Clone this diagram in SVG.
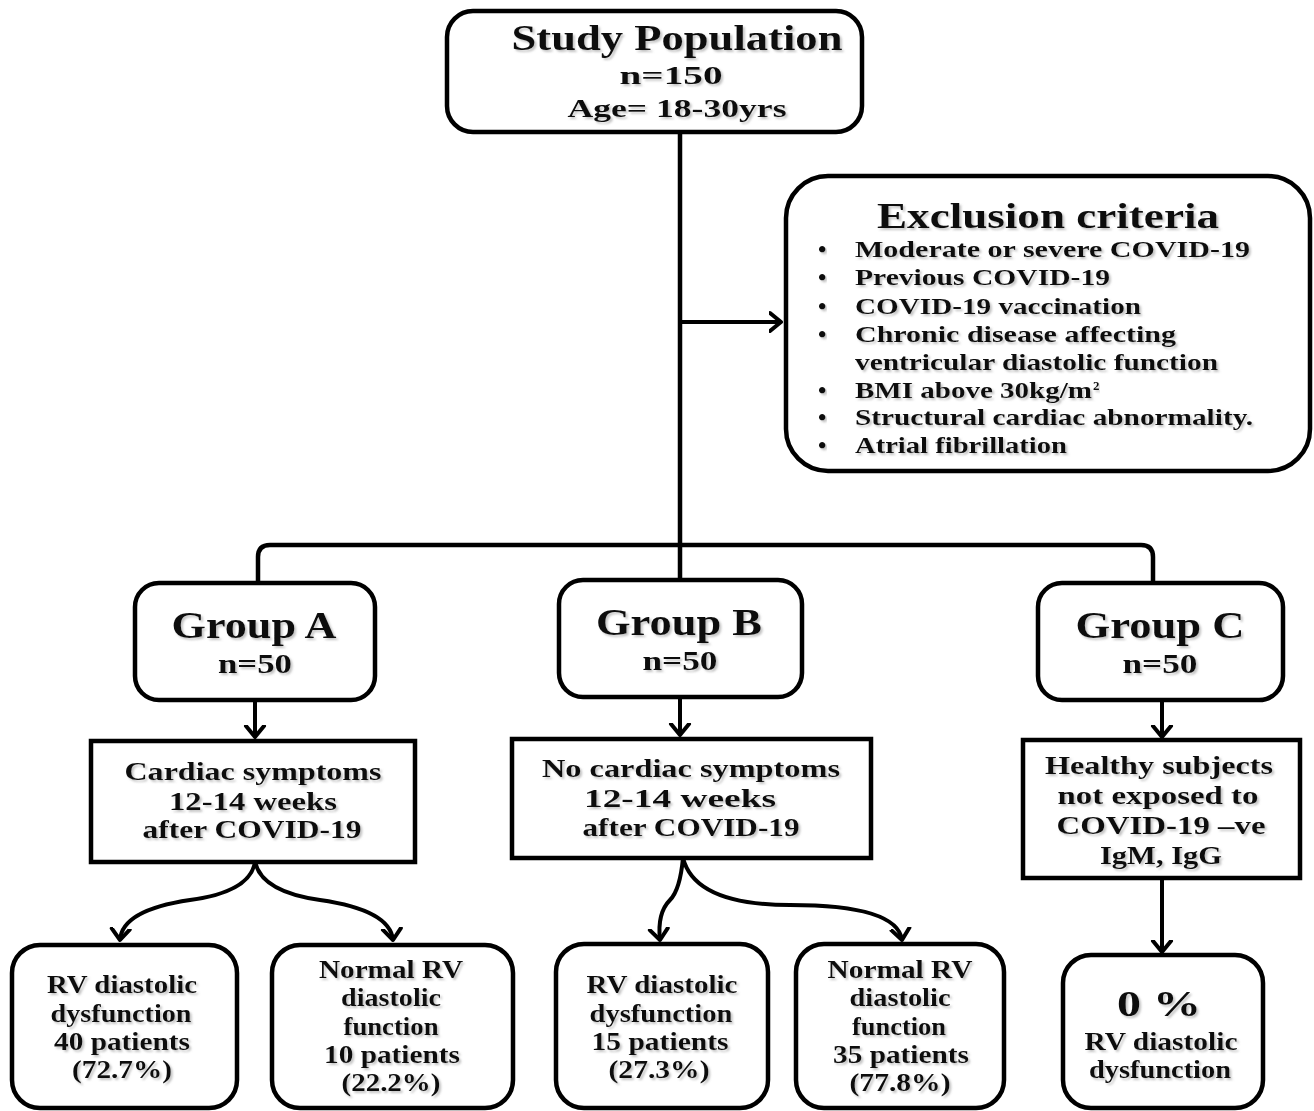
<svg xmlns="http://www.w3.org/2000/svg" width="1314" height="1111" viewBox="0 0 1314 1111">
<defs>
<marker id="arr" markerUnits="userSpaceOnUse" markerWidth="24" markerHeight="24" viewBox="-12 -12 24 24" refX="0" refY="0" orient="auto">
<path d="M-11,-9 L0,0 L-11,9" fill="none" stroke="#000" stroke-width="4" stroke-linecap="round" stroke-linejoin="round"/>
</marker>
<filter id="sh" x="-5%" y="-20%" width="110%" height="150%">
<feDropShadow dx="2" dy="2" stdDeviation="1.2" flood-color="#888" flood-opacity="0.5"/>
</filter>
</defs>
<style>
.box{fill:#fff;stroke:#000;stroke-width:4.5}
.ln{fill:none;stroke:#000;stroke-width:4.5}
.ar{fill:none;stroke:#000;stroke-width:4;marker-end:url(#arr)}
text{font-family:"Liberation Serif","Times New Roman",serif;font-weight:bold;fill:#111;text-anchor:middle;filter:url(#sh)}
.t1{font-size:35px}
.t2{font-size:26px}
.t3{font-size:25px}
.li{font-size:24px;text-anchor:start}
.sup{font-size:13px;text-anchor:start}
.g{font-size:38px}
.n{font-size:28px}
</style>
<g id="connectors">
<line class="ln" x1="680" y1="132" x2="680" y2="579"/>
<path class="ln" d="M258,583 L258,557 Q258,545 270,545 L1141,545 Q1153,545 1153,557 L1153,583"/>
<line class="ar" x1="680" y1="322" x2="781" y2="322"/>
<line class="ar" x1="255" y1="700" x2="255" y2="737"/>
<line class="ar" x1="680" y1="697" x2="680" y2="735"/>
<line class="ar" x1="1162" y1="700" x2="1162" y2="737"/>
<path class="ar" d="M255,862 Q250,892 190,900 Q122,910 120,940"/>
<path class="ar" d="M255,862 Q262,892 320,900 Q390,910 393,940"/>
<path class="ar" d="M683,858 Q680,890 670,900 Q657,913 660,940"/>
<path class="ar" d="M683,858 Q695,905 790,905 Q897,905 902,940"/>
<line class="ar" x1="1162" y1="878" x2="1162" y2="952"/>
</g>
<g id="study">
<rect class="box" x="447" y="11" width="415" height="121" rx="26"/>
<text class="t1" x="677" y="50" textLength="331" lengthAdjust="spacingAndGlyphs">Study Population</text>
<text class="t2" x="671" y="84" textLength="103" lengthAdjust="spacingAndGlyphs">n=150</text>
<text class="t2" x="677" y="117" textLength="219" lengthAdjust="spacingAndGlyphs">Age= 18-30yrs</text>
</g>
<g id="exclusion">
<rect class="box" x="786" y="176" width="524" height="295" rx="42"/>
<text class="t1" x="1048" y="228" textLength="342" lengthAdjust="spacingAndGlyphs">Exclusion criteria</text>
<text class="li" x="818" y="257">•</text><text class="li" x="855" y="257" textLength="395" lengthAdjust="spacingAndGlyphs">Moderate or severe COVID-19</text>
<text class="li" x="818" y="285">•</text><text class="li" x="855" y="285" textLength="255" lengthAdjust="spacingAndGlyphs">Previous COVID-19</text>
<text class="li" x="818" y="314">•</text><text class="li" x="855" y="314" textLength="286" lengthAdjust="spacingAndGlyphs">COVID-19 vaccination</text>
<text class="li" x="818" y="342">•</text><text class="li" x="855" y="342" textLength="321" lengthAdjust="spacingAndGlyphs">Chronic  disease affecting</text>
<text class="li" x="855" y="370" textLength="363" lengthAdjust="spacingAndGlyphs">ventricular  diastolic  function</text>
<text class="li" x="818" y="398">•</text><text class="li" x="855" y="398" textLength="237" lengthAdjust="spacingAndGlyphs">BMI above 30kg/m</text><text class="sup" x="1093" y="390">2</text>
<text class="li" x="818" y="425">•</text><text class="li" x="855" y="425" textLength="398" lengthAdjust="spacingAndGlyphs">Structural  cardiac  abnormality.</text>
<text class="li" x="818" y="453">•</text><text class="li" x="855" y="453" textLength="212" lengthAdjust="spacingAndGlyphs">Atrial  fibrillation</text>
</g>
<g id="groupA">
<rect class="box" x="135" y="583" width="240" height="117" rx="24"/>
<text class="g" x="254" y="638" textLength="165" lengthAdjust="spacingAndGlyphs">Group A</text>
<text class="n" x="255" y="673" textLength="74" lengthAdjust="spacingAndGlyphs">n=50</text>
</g>
<g id="groupB">
<rect class="box" x="559" y="580" width="243" height="117" rx="24"/>
<text class="g" x="679" y="635" textLength="166" lengthAdjust="spacingAndGlyphs">Group B</text>
<text class="n" x="680" y="670" textLength="75" lengthAdjust="spacingAndGlyphs">n=50</text>
</g>
<g id="groupC">
<rect class="box" x="1038" y="583" width="245" height="117" rx="24"/>
<text class="g" x="1160" y="638" textLength="169" lengthAdjust="spacingAndGlyphs">Group C</text>
<text class="n" x="1160" y="673" textLength="75" lengthAdjust="spacingAndGlyphs">n=50</text>
</g>
<g id="rectA">
<rect class="box" x="91" y="741" width="324" height="121"/>
<text class="t3" x="253" y="780" textLength="257" lengthAdjust="spacingAndGlyphs">Cardiac symptoms</text>
<text class="t3" x="253" y="810" textLength="168" lengthAdjust="spacingAndGlyphs">12-14 weeks</text>
<text class="t3" x="252" y="838" textLength="219" lengthAdjust="spacingAndGlyphs">after COVID-19</text>
</g>
<g id="rectB">
<rect class="box" x="512" y="739" width="359" height="119"/>
<text class="t3" x="691" y="777" textLength="298" lengthAdjust="spacingAndGlyphs">No cardiac symptoms</text>
<text class="t3" x="680" y="807" textLength="192" lengthAdjust="spacingAndGlyphs">12-14 weeks</text>
<text class="t3" x="691" y="836" textLength="217" lengthAdjust="spacingAndGlyphs">after COVID-19</text>
</g>
<g id="rectC">
<rect class="box" x="1023" y="740" width="277" height="138"/>
<text class="t3" x="1159" y="774" textLength="228" lengthAdjust="spacingAndGlyphs">Healthy subjects</text>
<text class="t3" x="1158" y="804" textLength="201" lengthAdjust="spacingAndGlyphs">not exposed to</text>
<text class="t3" x="1161" y="834" textLength="209" lengthAdjust="spacingAndGlyphs">COVID-19  –ve</text>
<text class="t3" x="1161" y="864" textLength="122" lengthAdjust="spacingAndGlyphs">IgM, IgG</text>
</g>
<g id="a1">
<rect class="box" x="12" y="945" width="225" height="163" rx="28"/>
<text class="t3" x="122" y="993" textLength="150" lengthAdjust="spacingAndGlyphs">RV diastolic</text>
<text class="t3" x="121" y="1022" textLength="141" lengthAdjust="spacingAndGlyphs">dysfunction</text>
<text class="t3" x="122" y="1050" textLength="136" lengthAdjust="spacingAndGlyphs">40 patients</text>
<text class="t3" x="122" y="1078" textLength="100" lengthAdjust="spacingAndGlyphs">(72.7%)</text>
</g>
<g id="a2">
<rect class="box" x="272" y="945" width="241" height="163" rx="28"/>
<text class="t3" x="391" y="978" textLength="144" lengthAdjust="spacingAndGlyphs">Normal RV</text>
<text class="t3" x="391" y="1006" textLength="100" lengthAdjust="spacingAndGlyphs">diastolic</text>
<text class="t3" x="391" y="1035" textLength="95" lengthAdjust="spacingAndGlyphs">function</text>
<text class="t3" x="392" y="1063" textLength="136" lengthAdjust="spacingAndGlyphs">10 patients</text>
<text class="t3" x="391" y="1091" textLength="99" lengthAdjust="spacingAndGlyphs">(22.2%)</text>
</g>
<g id="b1">
<rect class="box" x="556" y="944" width="212" height="164" rx="28"/>
<text class="t3" x="662" y="993" textLength="151" lengthAdjust="spacingAndGlyphs">RV diastolic</text>
<text class="t3" x="661" y="1022" textLength="143" lengthAdjust="spacingAndGlyphs">dysfunction</text>
<text class="t3" x="660" y="1050" textLength="137" lengthAdjust="spacingAndGlyphs">15 patients</text>
<text class="t3" x="659" y="1078" textLength="101" lengthAdjust="spacingAndGlyphs">(27.3%)</text>
</g>
<g id="b2">
<rect class="box" x="796" y="944" width="208" height="164" rx="28"/>
<text class="t3" x="900" y="978" textLength="145" lengthAdjust="spacingAndGlyphs">Normal RV</text>
<text class="t3" x="900" y="1006" textLength="101" lengthAdjust="spacingAndGlyphs">diastolic</text>
<text class="t3" x="899" y="1035" textLength="94" lengthAdjust="spacingAndGlyphs">function</text>
<text class="t3" x="901" y="1063" textLength="136" lengthAdjust="spacingAndGlyphs">35 patients</text>
<text class="t3" x="900" y="1091" textLength="101" lengthAdjust="spacingAndGlyphs">(77.8%)</text>
</g>
<g id="c1">
<rect class="box" x="1063" y="955" width="200" height="153" rx="28"/>
<text class="t1" x="1159" y="1016" textLength="84" lengthAdjust="spacingAndGlyphs">0 %</text>
<text class="t3" x="1161" y="1050" textLength="153" lengthAdjust="spacingAndGlyphs">RV diastolic</text>
<text class="t3" x="1160" y="1078" textLength="142" lengthAdjust="spacingAndGlyphs">dysfunction</text>
</g>
</svg>
